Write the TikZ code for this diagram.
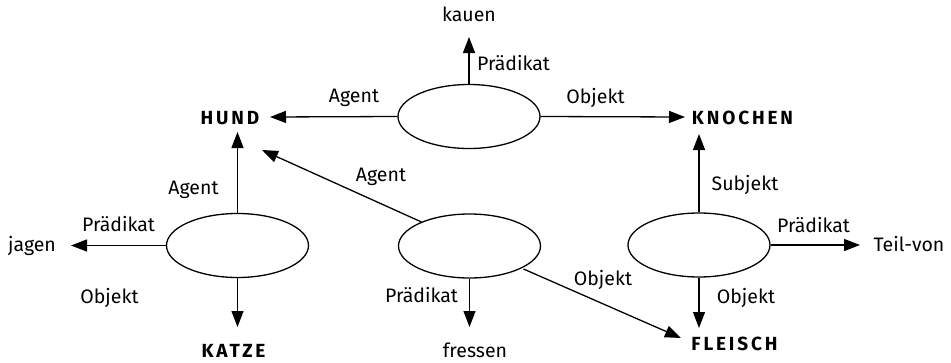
\documentclass[tikz,border=0pt]{standalone}
\usepackage{fontspec}
\setmainfont{Fira Sans}
\usetikzlibrary{shapes.geometric,arrows.meta}
\newfontfamily\heavyfont[LetterSpace=15]{Fira Sans}[BoldFont={* Bold}]
\begin{document}
\begin{tikzpicture}[x=1pt,y=-1pt,
  every node/.style={font=\fontsize{19.5}{22}\selectfont, inner sep=0pt},
  rel/.style={draw, ellipse, minimum width=142pt, minimum height=64pt, line width=1.3pt},
  concept/.style={font=\fontsize{19}{22}\selectfont\heavyfont\bfseries},
  word/.style={},
  lbl/.style={},
  conn/.style={line width=1.3pt, -{Triangle[length=16pt,width=12pt]}},
  plain/.style={line width=1.3pt}]
\useasboundingbox (0,0) rectangle (951,362);

% relation ellipses
\node[rel] (e1) at (469,116.5) {};
\node[rel] (e2) at (237.5,245.5) {};
\node[rel] (e3) at (469.5,246) {};
\node[rel] (e4) at (699,245) {};

% concept and word nodes
\node[concept] (hund) at (230,118) {HUND};
\node[concept] (knochen) at (742.5,118) {KNOCHEN};
\node[concept] (katze) at (233.5,350.5) {KATZE};
\node[concept] (fleisch) at (734.5,343.5) {FLEISCH};
\node[word, anchor=base] (kauen) at (469,21) {kauen};
\node[word, anchor=base] (jagen) at (32,251) {jagen};
\node[word, anchor=base] (fressen) at (475,357) {fressen};
\node[word, anchor=base] (teil) at (909,251) {Teil-von};

% connector end points
\coordinate (tkauen) at (469,37);
\coordinate (thund1) at (270,117);
\coordinate (tknochen1) at (685,117);
\coordinate (thund2) at (237.5,132);
\coordinate (tjagen) at (71,245.5);
\coordinate (tkatze) at (237.5,327);
\coordinate (thund3) at (262,150);
\coordinate (tfressen) at (469.5,327);
\coordinate (tfleisch1) at (681,338);
\coordinate (tknochen2) at (699,134);
\coordinate (tteil) at (860,245);
\coordinate (tfleisch2) at (699,328);

% connectors
\draw[conn] (e1.north) -- (tkauen);
\draw[conn] (e1.west) -- (thund1);
\draw[conn] (e1.east) -- (tknochen1);
\draw[conn] (e2.north) -- (thund2);
\draw[conn] (e2.west) -- (tjagen);
\draw[conn] (e2.south) -- (tkatze);
\draw[conn] (e3) ++(-48,-24) -- (thund3);
\draw[conn] (e3.south) -- (tfressen);
\draw[conn] (e3) ++(54,23) -- (tfleisch1);
\draw[conn] (e4.north) -- (tknochen2);
\draw[conn] (e4.east) -- (tteil);
\draw[conn] (e4.south) -- (tfleisch2);

% labels
\node[lbl, anchor=base] (l1) at (513.5,70) {Prädikat};
\node[lbl, anchor=base] (l2) at (354,102) {Agent};
\node[lbl, anchor=base] (l3) at (595.5,103) {Objekt};
\node[lbl, anchor=base] (l4) at (193.5,194) {Agent};
\node[lbl, anchor=base] (l5) at (118.5,231) {Prädikat};
\node[lbl, anchor=base] (l6) at (109.5,303) {Objekt};
\node[lbl, anchor=base] (l7) at (381,181) {Agent};
\node[lbl, anchor=base] (l8) at (421.5,302) {Prädikat};
\node[lbl, anchor=base] (l9) at (603,285) {Objekt};
\node[lbl, anchor=base] (l10) at (745,190) {Subjekt};
\node[lbl, anchor=base] (l11) at (813.5,232) {Prädikat};
\node[lbl, anchor=base] (l12) at (746,303) {Objekt};
\end{tikzpicture}
\end{document}
